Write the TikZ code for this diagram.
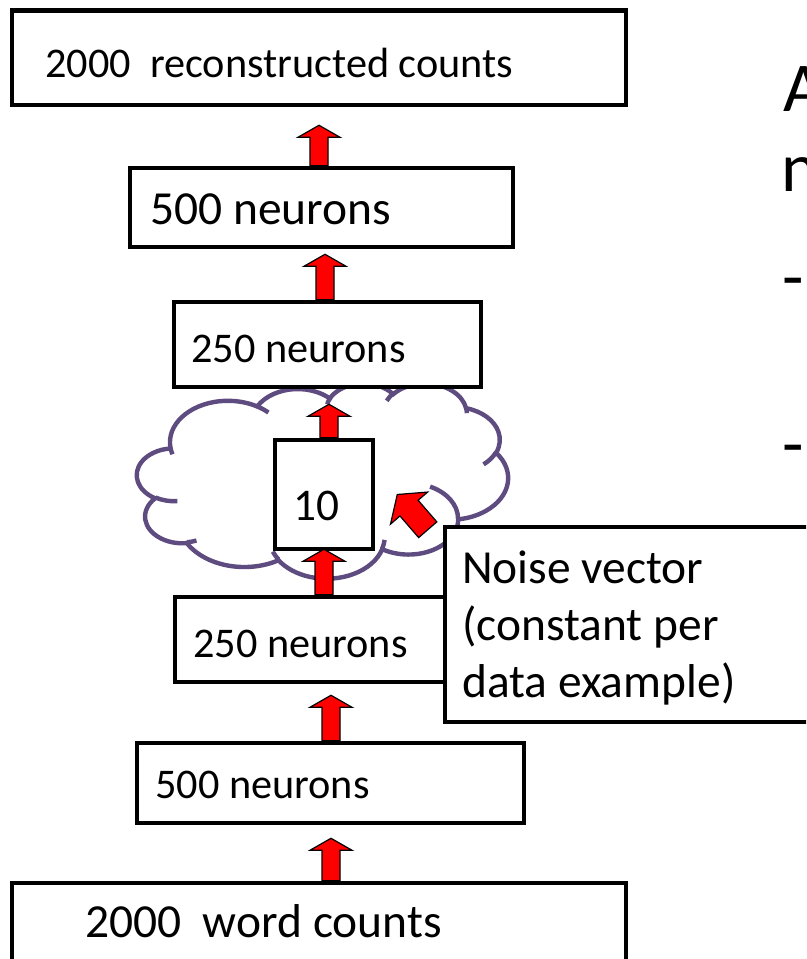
\documentclass[tikz,border=0pt]{standalone}
\usepackage{fontspec}
\setmainfont{Carlito}
\usetikzlibrary{calc,fit}

\definecolor{cloudpurple}{RGB}{94,75,127}
\definecolor{arrowred}{RGB}{255,0,0}

\tikzset{
  layerbox/.style={draw=black, line width=3.4pt, fill=white, inner sep=0pt, rectangle},
  lbl/.style={anchor=base west, inner sep=0pt, font=\fontsize{31.7}{38}\selectfont},
  lblbig/.style={lbl, font=\fontsize{35.6}{42.75}\selectfont},
  lblhuge/.style={lbl, font=\fontsize{52.5}{63}\selectfont},
  cloudline/.style={draw=cloudpurple, line width=3.3pt},
  blockarrow/.style={fill=arrowred, draw=black, line width=0.9pt, line join=miter},
}

% block arrow: #1 tail, #2 tip, #3 half shaft width, #4 half head width, #5 head length
\newcommand{\blockarr}[5]{%
  \coordinate (bahb) at ($(#2)!#5!(#1)$);
  \path[blockarrow] ($(#1)!#3!90:(#2)$) -- ($(bahb)!#3!90:(#2)$) -- ($(bahb)!#4!90:(#2)$)
    -- (#2) -- ($(bahb)!#4!-90:(#2)$) -- ($(bahb)!#3!-90:(#2)$) -- ($(#1)!#3!-90:(#2)$) -- cycle;
}

\begin{document}
\begin{tikzpicture}[x=0.75pt, y=-0.75pt,
  declare function={pang(\a,\b,\t)=atan2(\a*sin(\t),\b*cos(\t));}]
\useasboundingbox (0,0) rectangle (806,959);
\clip (0,0) rectangle (806,959);

% cloud around the code layer (preset cloud outline, 43.2 x 43.2 units)
\begin{scope}[shift={(137,383)}, xscale=8.588, yscale=4.514]
  \draw[cloudline] (3.9,14.37)
    \foreach \a/\b/\s/\w in {6.753/9.190/-190.4875/123.7805, 5.333/7.267/-144.1024/89.9452,
      4.365/5.945/-145.8079/99.7230, 4.857/6.595/-130.9861/117.2417,
      5.333/7.273/-78.7089/109.0269, 6.775/9.220/-46.2673/130.2690,
      5.785/7.867/0.6250/114.0333, 6.752/9.215/22.4516/115.1726,
      7.720/10.543/66.2426/75.7110, 4.360/5.918/-274.9421/146.7356,
      4.345/5.945/-246.8285/152.5189}
    { arc[x radius=\a, y radius=\b, start angle={pang(\a,\b,\s)},
          delta angle={mod(pang(\a,\b,\s+\w)-pang(\a,\b,\s)+720,360)}] }
    -- cycle;
  \foreach \x/\y/\a/\b/\s/\w in {4.693/26.177/4.345/5.945/86.7420/26.4295,
      6.928/34.899/4.360/5.918/73.6105/11.4475, 16.478/39.090/6.752/9.215/137.6242/14.0811,
      28.827/34.751/6.752/9.215/6.4533/15.9984, 34.129/22.954/5.785/7.867/-70.2924/70.9174,
      41.798/15.354/5.333/7.273/30.3180/27.7515, 38.324/5.426/4.857/6.595/-13.7443/14.8589,
      29.078/3.952/4.857/6.595/-149.1815/18.1954, 22.141/4.720/4.365/5.945/-163.4943/17.6864,
      14.000/5.192/6.753/9.190/-66.7070/12.3194, 4.127/15.789/6.753/9.190/157.6544/11.8582}
    \draw[cloudline] (\x,\y) arc[x radius=\a, y radius=\b, start angle={pang(\a,\b,\s)},
          delta angle={mod(pang(\a,\b,\s+\w)-pang(\a,\b,\s)+720,360)}];
\end{scope}

% layers
\node[layerbox, fit={(12,10.5) (626,105)}] (top) {};
\node[layerbox, fit={(130,168) (513,247)}] (up500) {};
\node[layerbox, fit={(174,302) (481,387)}] (up250) {};
\node[layerbox, fit={(275,440) (373,549)}] (ten) {};
\node[layerbox, fit={(175,597) (445,682)}] (lo250) {};
\node[layerbox, fit={(137,743) (524,823)}] (lo500) {};
\node[layerbox, fit={(12,883) (626,990)}] (bot) {};
\node[layerbox, fit={(445,527) (830,722)}] (noise) {};

% labels
\node[lbl] (ttop) at (45,78) {2000\ \ reconstructed counts};
\node[lblbig] (tup500) at (150,224) {500 neurons};
\node[lbl] (tup250) at (191,362) {250 neurons};
\node[lbl, font=\fontsize{34}{41}\selectfont] (tten) at (293,520) {10};
\node[lbl] (tlo250) at (193,657) {250 neurons};
\node[lbl] (tlo500) at (155,798) {500 neurons};
\node[lblbig] (tbot) at (85,937) {2000\ \ word counts};
\node[lblbig] (tn1) at (462,583) {Noise vector};
\node[lblbig] (tn2) at (462,640) {(constant per};
\node[lblbig] (tn3) at (462,697) {data example)};

% text at the right margin
\node[lblhuge] (ra) at (783,112) {A};
\node[lblhuge] (rn) at (781,192) {n};
\node[lblhuge] (rd1) at (782,300) {-};
\node[lblhuge] (rd2) at (782,467) {-};

% arrows between layers
\coordinate (x1) at (319,0);
\coordinate (x2) at (325,0);
\coordinate (x3) at (329,0);
\coordinate (x4) at (324,0);
\coordinate (x5) at (331,0);
\blockarr{up500.north -| x1}{$(top.south -| x1)+(0,18)$}{6.75pt}{15.75pt}{9pt}
\blockarr{up250.north -| x2}{$(up500.south -| x2)+(0,5)$}{6.75pt}{15.75pt}{9pt}
\blockarr{ten.north -| x3}{$(up250.south -| x3)+(0,15)$}{6.75pt}{15.75pt}{9pt}
\blockarr{lo250.north -| x4}{$(ten.south -| x4)+(0,-2)$}{6.75pt}{15.75pt}{9pt}
\blockarr{lo500.north -| x5}{$(lo250.south -| x5)+(0,11)$}{6.75pt}{15.75pt}{9pt}
\blockarr{bot.north -| x5}{$(lo500.south -| x5)+(0,13)$}{6.75pt}{15.75pt}{9pt}

% noise input into the code layer
\coordinate (ntail) at ($(noise.north west)+(-15,5)$);
\coordinate (ntip) at ($(ten.east)+(22,0)$);
\blockarr{ntail}{ntip}{9pt}{18.4pt}{13.5pt}
\end{tikzpicture}
\end{document}
